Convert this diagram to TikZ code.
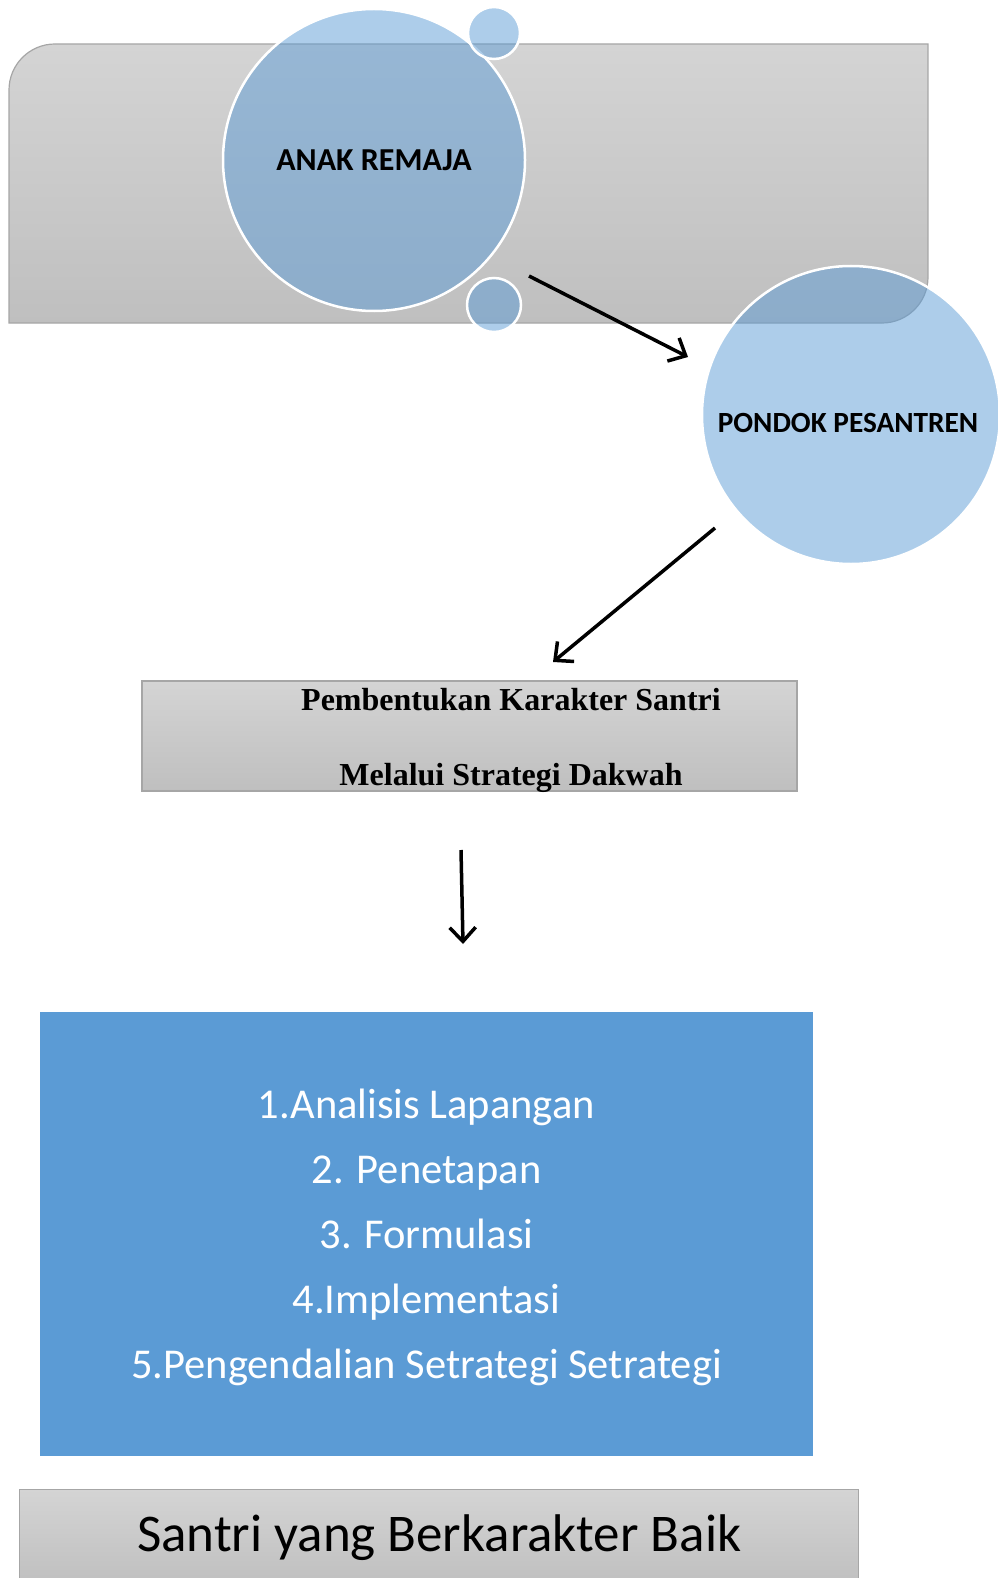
\documentclass[tikz,border=0pt]{standalone}
\usepackage{fontspec}
\setmainfont{Carlito}
\newfontfamily\serifbold{Liberation Serif}
\usetikzlibrary{arrows.meta,positioning}

\definecolor{accent}{HTML}{5B9BD5}
\definecolor{greytop}{HTML}{D4D4D4}
\definecolor{greybot}{HTML}{BFBFBF}
\definecolor{greyline}{HTML}{A6A6A6}

\tikzset{
    greybox/.style={draw=greyline, line width=1.2pt, top color=greytop, bottom color=greybot},
    bubble/.style={circle, draw=white, line width=2.5pt, fill=accent, fill opacity=0.5,
        text opacity=1, inner sep=0pt},
    flow/.style={line width=3.5pt, -{Straight Barb[length=14pt,width=26pt,line width=3.5pt]}},
}

\begin{document}
\begin{tikzpicture}[x=1pt, y=-1pt]
    \useasboundingbox (0,0) rectangle (997,1578);

    % Top panel
    \draw[greybox] (9,323) -- (9,90) arc[start angle=180, end angle=270, radius=46]
        -- (928,44) -- (928,277) arc[start angle=0, end angle=90, radius=46] -- cycle;

    % Bubbles
    \node[bubble, minimum size=302pt, font=\bfseries\fontsize{32}{38}\selectfont] (remaja) at (374,160) {ANAK REMAJA};
    \node[bubble, minimum size=52pt] (dottop) at (494,33) {};
    \node[bubble, minimum size=54pt] (dotbot) at (494,305) {};
    \node[bubble, minimum size=298pt] (pondok) at (851,415) {};
    \node[font=\bfseries\fontsize{29.3}{35}\selectfont] (pondokteks) at (848,423) {PONDOK PESANTREN};

    % Middle box
    \node[greybox, minimum width=655pt, minimum height=110pt, inner sep=0pt] (strategi) at (469.5,736) {};
    \node[anchor=base, font=\serifbold\bfseries\fontsize{32}{38}\selectfont] (judul1) at (511,710) {Pembentukan Karakter Santri};
    \node[anchor=base, font=\serifbold\bfseries\fontsize{32}{38}\selectfont] (judul2) at (511,785) {Melalui Strategi Dakwah};

    % Steps
    \node[fill=accent, minimum width=773pt, minimum height=444pt] (langkah) at (426.5,1234) {};
    \node[text=white, align=center, font=\fontsize{42.5}{65}\selectfont] (langkahteks) at (426.5,1237)
        {1.Analisis Lapangan\\2. Penetapan\\3. Formulasi\\4.Implementasi\\5.Pengendalian Setrategi Setrategi};

    % Result
    \node[greybox, anchor=north west, minimum width=839pt, minimum height=96pt,
        font=\fontsize{53}{60}\selectfont] (hasil) at (19,1489) {Santri yang Berkarakter Baik};

    % Arrows
    \coordinate (a1) at (529,276);
    \coordinate (b1) at (688,357);
    \coordinate (a2) at (715,528);
    \coordinate (b2) at (553,662);
    \coordinate (a3) at (461,850);
    \coordinate (b3) at (463,944);
    \draw[flow] (a1) -- (b1);
    \draw[flow] (a2) -- (b2);
    \draw[flow] (a3) -- (b3);

\end{tikzpicture}
\end{document}
